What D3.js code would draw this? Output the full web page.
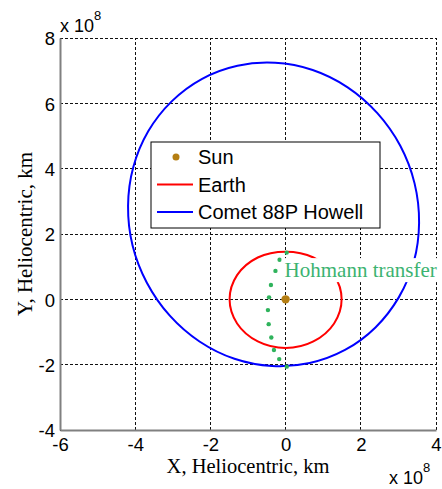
<!DOCTYPE html>
<html>
<head>
<meta charset="utf-8">
<script src="https://cdn.jsdelivr.net/npm/d3@7"></script>
<style>
  body { margin: 0; background: #fff; }
  svg { display: block; }
</style>
</head>
<body>
<div id="chart"></div>
<script>
// values in units of 1e8 km
var xTicks = [-6, -4, -2, 0, 2, 4];
var yTicks = [-4, -2, 0, 2, 4, 6, 8];

var sun = [0, 0];

var earthOrbit = [
    [1.49, 0], [1.29, 0.74], [0.74, 1.28], [0, 1.46], [-0.74, 1.28], [-1.29, 0.74],
    [-1.49, 0], [-1.29, -0.74], [-0.74, -1.29], [0, -1.49], [0.74, -1.29], [1.29, -0.74]
];

var cometOrbit = [
    [3.55, 2.34], [3.43, 3.55], [3.05, 4.70], [2.44, 5.70], [1.65, 6.49], [0.72, 7.02],
    [-0.28, 7.24], [-1.28, 7.15], [-2.22, 6.75], [-3.03, 6.06], [-3.65, 5.15], [-4.05, 4.05],
    [-4.19, 2.86], [-4.07, 1.65], [-3.69, 0.51], [-3.08, -0.50], [-2.29, -1.29], [-1.36, -1.82],
    [-0.36, -2.04], [0.64, -1.95], [1.58, -1.55], [2.39, -0.86], [3.01, 0.06], [3.41, 1.15]
];

var transfer = [
    [0.03, 1.43], [-0.16, 1.21], [-0.27, 0.87], [-0.39, 0.44], [-0.44, 0.06], [-0.47, -0.33],
    [-0.45, -0.76], [-0.38, -1.17], [-0.31, -1.55], [-0.17, -1.83], [0.03, -2.06]
];

var legendNames = ["Sun", "Earth", "Comet 88P Howell"];

var W = 442, H = 489;
var margin = {left: 60, top: 38, right: 6, bottom: 59};
var colors = {sun: "#b57e12", earth: "#ff0000", comet: "#0000ff", transfer: "#2fb35c"};

var svg = d3.select("#chart").append("svg")
    .attr("width", W)
    .attr("height", H);

var x = d3.scaleLinear().domain([-6, 4]).range([margin.left, W - margin.right]);
var y = d3.scaleLinear().domain([-4, 8]).range([H - margin.bottom, margin.top]);

// grid
var grid = svg.append("g");
grid.selectAll("line.gx").data(xTicks).enter().append("line")
    .attr("x1", function(d) { return x(d); }).attr("x2", function(d) { return x(d); })
    .attr("y1", y(-4)).attr("y2", y(8));
grid.selectAll("line.gy").data(yTicks).enter().append("line")
    .attr("y1", function(d) { return y(d); }).attr("y2", function(d) { return y(d); })
    .attr("x1", x(-6)).attr("x2", x(4));
grid.selectAll("line")
    .attr("stroke", "#111")
    .attr("stroke-width", 1)
    .attr("stroke-dasharray", "3,2")
    .attr("shape-rendering", "crispEdges");

// axes (left and bottom only, gray); plain hyphen minus like matlab
var fmt = function(d) { return String(d); };
var xAxis = svg.append("g")
    .attr("transform", "translate(0," + y(-4) + ")")
    .call(d3.axisBottom(x).tickValues(xTicks).tickSize(0).tickPadding(8).tickFormat(fmt));
var yAxis = svg.append("g")
    .attr("transform", "translate(" + x(-6) + ",0)")
    .call(d3.axisLeft(y).tickValues(yTicks).tickSize(0).tickPadding(5).tickFormat(fmt));
[xAxis, yAxis].forEach(function(a) {
    a.select(".domain").attr("stroke", "#808080").attr("stroke-width", 2);
    a.selectAll("text")
        .attr("font-family", "Liberation Sans, Arial, sans-serif")
        .attr("font-size", "18.5px")
        .attr("fill", "#000");
});
yAxis.selectAll("text").attr("dy", "0.36em");
xAxis.selectAll("text").attr("dy", "0.72em");

// curves
var line = d3.line()
    .x(function(d) { return x(d[0]); })
    .y(function(d) { return y(d[1]); })
    .curve(d3.curveCatmullRomClosed);

svg.append("path")
    .attr("d", line(cometOrbit))
    .attr("fill", "none")
    .attr("stroke", colors.comet)
    .attr("stroke-width", 2);

svg.append("path")
    .attr("d", line(earthOrbit))
    .attr("fill", "none")
    .attr("stroke", colors.earth)
    .attr("stroke-width", 2);

svg.selectAll("circle.tr").data(transfer).enter().append("circle")
    .attr("cx", function(d) { return x(d[0]); })
    .attr("cy", function(d) { return y(d[1]); })
    .attr("r", 2.2)
    .attr("fill", colors.transfer);

svg.append("circle")
    .attr("cx", x(sun[0]))
    .attr("cy", y(sun[1]))
    .attr("r", 4.2)
    .attr("fill", colors.sun);

// annotation with white background
var lab = svg.append("g");
var labBg = lab.append("rect").attr("fill", "#fff");
var labText = lab.append("text")
    .attr("x", x(0) - 1)
    .attr("y", y(0.68))
    .attr("font-family", "Liberation Serif, Times New Roman, serif")
    .attr("font-size", "21px")
    .attr("fill", "#3cb371")
    .text("Hohmann transfer");
var bb = labText.node().getBBox();
labBg.attr("x", bb.x - 3).attr("y", bb.y).attr("width", bb.width + 6).attr("height", bb.height);

// axis labels
svg.append("text")
    .attr("x", (x(-6) + x(4)) / 2)
    .attr("y", 473)
    .attr("text-anchor", "middle")
    .attr("font-family", "Liberation Serif, Times New Roman, serif")
    .attr("font-size", "20.5px")
    .text("X, Heliocentric, km");

svg.append("text")
    .attr("transform", "translate(32," + (y(-4) + y(8)) / 2 + ") rotate(-90)")
    .attr("text-anchor", "middle")
    .attr("font-family", "Liberation Serif, Times New Roman, serif")
    .attr("font-size", "21px")
    .text("Y, Heliocentric, km");

// exponent labels
function expLabel(px, py) {
    var t = svg.append("text")
        .attr("x", px).attr("y", py)
        .attr("font-family", "Liberation Sans, Arial, sans-serif")
        .attr("font-size", "18px");
    t.append("tspan").text("x 10");
    t.append("tspan").attr("dy", -12).attr("font-size", "13px").text("8");
}
expLabel(x(-6), 32);
expLabel(389, 484);

// legend
var lg = svg.append("g").attr("transform", "translate(151,142)");
lg.append("rect")
    .attr("width", 229).attr("height", 86)
    .attr("fill", "#fff")
    .attr("stroke", "#000")
    .attr("stroke-width", 1);
var rows = lg.selectAll("g.row").data(legendNames).enter().append("g")
    .attr("transform", function(d, i) { return "translate(0," + (15 + i * 27.5) + ")"; });
rows.append("text")
    .attr("x", 47)
    .attr("dy", "0.36em")
    .attr("font-family", "Liberation Sans, Arial, sans-serif")
    .attr("font-size", "20px")
    .text(function(d) { return d; });
rows.each(function(d, i) {
    var g = d3.select(this);
    if (i === 0) {
        g.append("circle")
            .attr("cx", 25)
            .attr("r", 3.5)
            .attr("fill", colors.sun);
    } else {
        g.append("line")
            .attr("x1", 6).attr("x2", 42)
            .attr("stroke", i === 1 ? colors.earth : colors.comet)
            .attr("stroke-width", 2);
    }
});
</script>
</body>
</html>
